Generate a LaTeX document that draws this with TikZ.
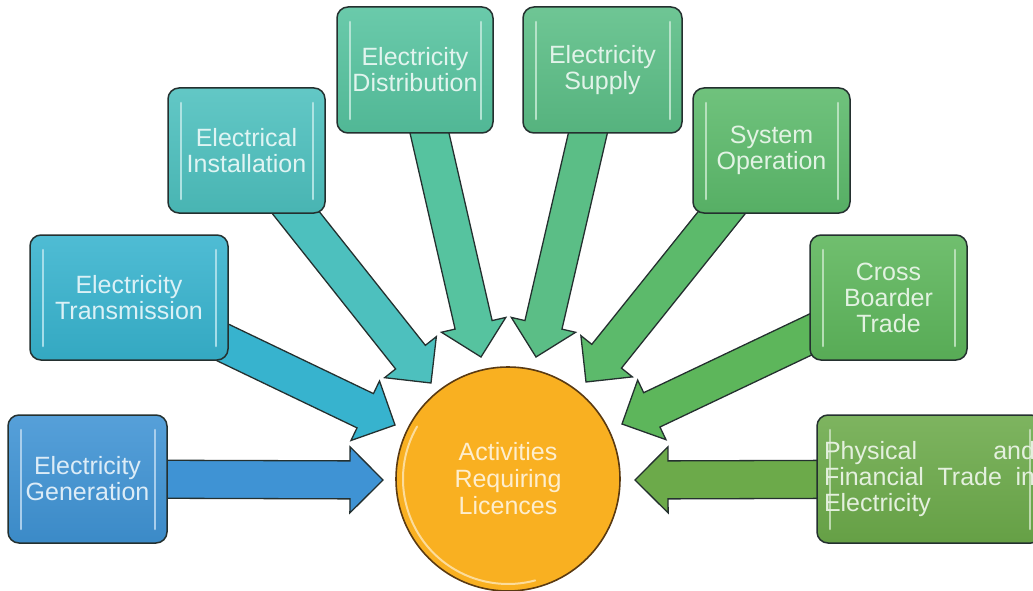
\documentclass[tikz,border=0pt]{standalone}
\usepackage{fontspec}
\setmainfont{Liberation Sans}
\usetikzlibrary{calc,backgrounds}
\definecolor{edgec}{HTML}{24302F}
\definecolor{genc}{HTML}{3F93D4}
\definecolor{transc}{HTML}{37B3CE}
\definecolor{instc}{HTML}{4DC0BE}
\definecolor{distc}{HTML}{56C39F}
\definecolor{supc}{HTML}{5BBE86}
\definecolor{sysc}{HTML}{5CBA6B}
\definecolor{crossc}{HTML}{5DB65B}
\definecolor{physc}{HTML}{6CAA4A}
\definecolor{hubc}{HTML}{F9B021}
\definecolor{hubedge}{HTML}{5A3A12}
\tikzset{
  box/.style={rounded corners=11pt, draw=edgec, line width=1.5pt, inner sep=0pt,
    align=center, font=\fontsize{25}{26}\selectfont,
    top color=#1!88!white, bottom color=#1!94!black, text=#1!18!white,
    path picture={
      \draw[line width=2.6pt, #1!45!white, line cap=round]
        ([xshift=13pt,yshift=-15pt]path picture bounding box.north west) --
        ([xshift=13pt,yshift=14pt]path picture bounding box.south west);
      \draw[line width=2.6pt, #1!45!white, line cap=round]
        ([xshift=-12pt,yshift=-15pt]path picture bounding box.north east) --
        ([xshift=-12pt,yshift=14pt]path picture bounding box.south east);
    }},
  arrowline/.style={draw=edgec, line width=1.3pt, line join=miter},
  hub/.style={circle, draw=hubedge, line width=1.6pt, fill=hubc, minimum size=224pt,
    inner sep=0pt, align=center, font=\fontsize{25}{27}\selectfont, text=hubc!22!white}
}
\newcommand\blockarrow[3]{%
  \coordinate (ba-h) at ($(#2)!33pt!(#1.center)$);
  \filldraw[arrowline, fill=#3]
    ($(#1.center)!19pt!90:(#2)$) -- ($(ba-h)!19pt!90:(#2)$) --
    ($(ba-h)!33pt!90:(#2)$) -- (#2) -- ($(ba-h)!33pt!-90:(#2)$) --
    ($(ba-h)!19pt!-90:(#2)$) -- ($(#1.center)!19pt!-90:(#2)$) -- cycle;
}
\begin{document}
\begin{tikzpicture}[x=1pt,y=-1pt]
\useasboundingbox (0,0) rectangle (1033,591);
\clip (0,0) rectangle (1033,591);

% boxes
\node[box=genc, minimum width=159pt, minimum height=128pt] (gen) at (87.5,479) {Electricity\\Generation};
\node[box=transc, minimum width=198pt, minimum height=125pt] (trans) at (129,297.5) {Electricity\\Transmission};
\node[box=instc, minimum width=157pt, minimum height=125pt] (inst) at (246.5,150.5) {Electrical\\Installation};
\node[box=distc, minimum width=156pt, minimum height=126pt] (dist) at (415,70) {Electricity\\Distribution};
\node[box=supc, minimum width=159pt, minimum height=126pt] (sup) at (602.5,70) {Electricity\\Supply};
\node[box=sysc, minimum width=157pt, minimum height=125pt] (sys) at (771.5,150.5) {System\\Operation};
\node[box=crossc, minimum width=157pt, minimum height=125pt] (cross) at (888.5,297.5) {Cross\\Boarder\\Trade};
\node[box=physc, minimum width=225pt, minimum height=128pt, align=left] (phys) at (929.5,479)
  {\hbox to 211pt{Physical\hfill and}\\\hbox to 211pt{Financial\hfill Trade\hfill in}\\\hbox to 211pt{Electricity\hfill}};

% hub
\node[hub] (hubn) at (508,479) {Activities\\Requiring\\Licences};
\draw[line width=2pt, hubc!45!white, line cap=round]
  ([shift={(150:105pt)}]hubn.center) arc[start angle=150, end angle=285, radius=105pt];

% arrow tips
\coordinate (tGen) at (383,480);
\coordinate (tTrans) at (395,425);
\coordinate (tInst) at (431,383);
\coordinate (tDist) at (481,357);
\coordinate (tSup) at (536,357);
\coordinate (tSys) at (586,382);
\coordinate (tCross) at (622,424);
\coordinate (tPhys) at (635,480);

\begin{scope}[on background layer]
\blockarrow{gen}{tGen}{genc}
\blockarrow{trans}{tTrans}{transc}
\blockarrow{inst}{tInst}{instc}
\blockarrow{dist}{tDist}{distc}
\blockarrow{sup}{tSup}{supc}
\blockarrow{sys}{tSys}{sysc}
\blockarrow{cross}{tCross}{crossc}
\blockarrow{phys}{tPhys}{physc}
\end{scope}
\end{tikzpicture}
\end{document}
